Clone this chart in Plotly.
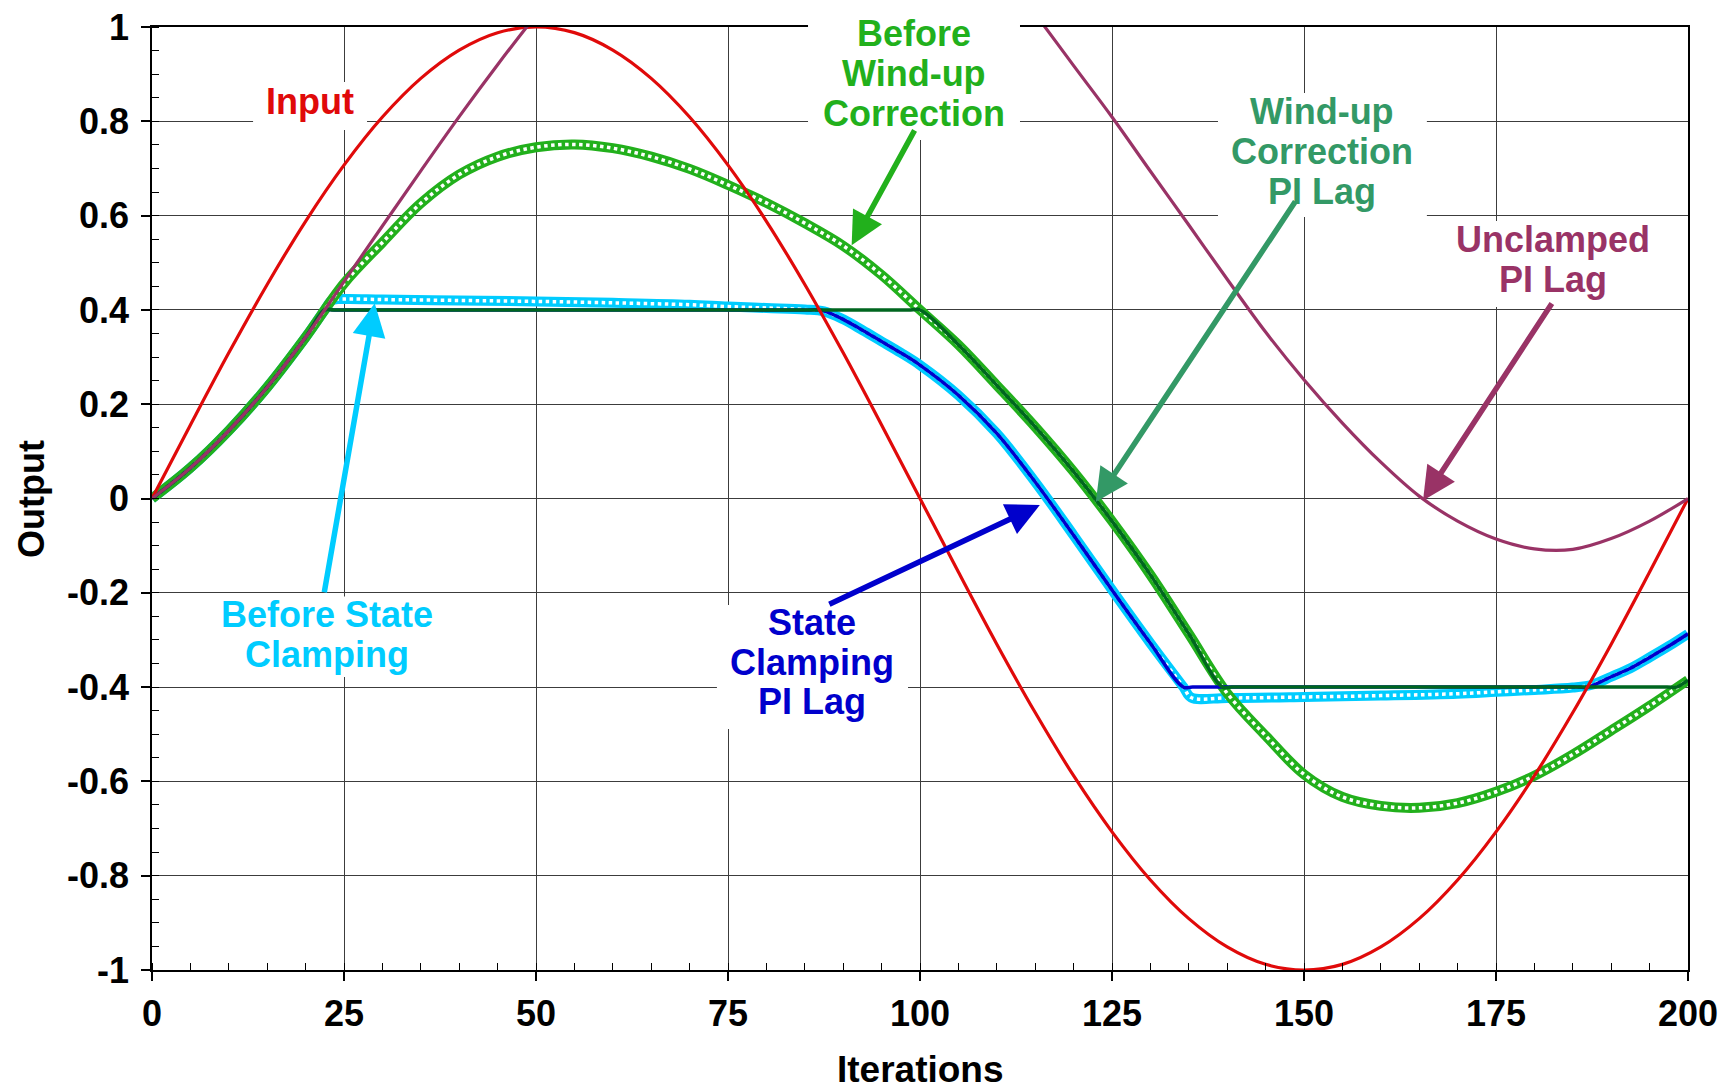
import plotly.graph_objects as go

# ---------------- data ----------------
iterations = [0, 5, 10, 15, 20, 25, 30, 35, 40, 45, 50, 55, 60, 65, 70, 75, 80, 85, 90, 95,
              100, 105, 110, 115, 120, 125, 130, 135, 140, 145, 150, 155, 160, 165, 170, 175,
              180, 185, 190, 195, 200]

input_signal = [0.000, 0.156, 0.309, 0.454, 0.588, 0.707, 0.809, 0.891, 0.951, 0.988,
                1.000, 0.988, 0.951, 0.891, 0.809, 0.707, 0.588, 0.454, 0.309, 0.156,
                0.000, -0.156, -0.309, -0.454, -0.588, -0.707, -0.809, -0.891, -0.951, -0.988,
                -1.000, -0.988, -0.951, -0.891, -0.809, -0.707, -0.588, -0.454, -0.309, -0.156,
                0.000]

unclamped_pi_lag = [0.000, 0.065, 0.144, 0.236, 0.342, 0.460, 0.578, 0.695, 0.810, 0.920,
                    1.025, 1.125, 1.215, 1.290, 1.350, 1.390, 1.405, 1.400, 1.380, 1.340,
                    1.285, 1.215, 1.135, 1.028, 0.918, 0.809, 0.694, 0.580, 0.465, 0.353,
                    0.252, 0.160, 0.077, 0.005, -0.048, -0.086, -0.107, -0.108, -0.085, -0.048,
                    0.000]

before_windup_correction = [0.000, 0.065, 0.144, 0.236, 0.342, 0.456, 0.543, 0.626, 0.687, 0.725,
                            0.745, 0.751, 0.743, 0.725, 0.699, 0.665, 0.627, 0.584, 0.536, 0.474,
                            0.400, 0.326, 0.240, 0.152, 0.057, -0.048, -0.162, -0.287, -0.413, -0.503,
                            -0.585, -0.633, -0.652, -0.656, -0.646, -0.622, -0.588, -0.543, -0.492, -0.440,
                            -0.385]

windup_x = [0, 5, 10, 15, 20, 22.5, 23.7, 60, 98.8, 100, 105, 110, 115, 120, 125, 130, 135,
            139.4, 140.6, 170, 197.3, 198.5, 200]
windup_correction_pi_lag = [0.000, 0.065, 0.144, 0.236, 0.342, 0.400, 0.400, 0.400, 0.400, 0.400,
                            0.326, 0.240, 0.152, 0.057, -0.048, -0.162, -0.287, -0.400, -0.400,
                            -0.400, -0.400, -0.400, -0.385]

state_x = [0, 5, 10, 15, 20, 22.5, 23.7, 50, 85.5, 86.9, 87.5, 90, 92.5, 95, 97.5, 100, 105,
           110, 115, 120, 125, 130, 134.3, 135.5, 160, 185.5, 186.9, 190, 192.5, 195, 197.5, 200]
state_clamping_pi_lag = [0.000, 0.065, 0.144, 0.236, 0.342, 0.400, 0.400, 0.400, 0.400, 0.400,
                         0.398, 0.380, 0.357, 0.333, 0.309, 0.283, 0.219, 0.138, 0.035, -0.078,
                         -0.194, -0.307, -0.400, -0.400, -0.400, -0.400, -0.400, -0.378, -0.360,
                         -0.337, -0.313, -0.287]

before_state_x = [0, 5, 10, 15, 20, 22.5, 23.5, 25, 30, 40, 50, 60, 70, 75, 80, 85, 87.5, 90,
                  92.5, 95, 97.5, 100, 105, 110, 115, 120, 125, 130, 134.3, 135.3, 140, 150,
                  160, 170, 175, 180, 185, 187.5, 190, 192.5, 195, 197.5, 200]
before_state_clamping = [0.000, 0.065, 0.144, 0.236, 0.342, 0.400, 0.421, 0.423, 0.422, 0.420,
                         0.418, 0.415, 0.411, 0.407, 0.404, 0.401, 0.397, 0.380, 0.357, 0.333,
                         0.309, 0.283, 0.219, 0.138, 0.035, -0.078, -0.194, -0.307, -0.400, -0.422,
                         -0.423, -0.421, -0.418, -0.414, -0.410, -0.406, -0.401, -0.395, -0.378, -0.360,
                         -0.337, -0.313, -0.287]

x_tick_vals = [0, 25, 50, 75, 100, 125, 150, 175, 200]
x_tick_text = ["0", "25", "50", "75", "100", "125", "150", "175", "200"]
y_tick_vals = [-1, -0.8, -0.6, -0.4, -0.2, 0, 0.2, 0.4, 0.6, 0.8, 1]
y_tick_text = ["-1", "-0.8", "-0.6", "-0.4", "-0.2", "0", "0.2", "0.4", "0.6", "0.8", "1"]

# ---------------- styles ----------------
FONT = "Liberation Sans, Arial, Helvetica, sans-serif"
RED = "#e00a0a"
PURPLE = "#993366"
GREEN = "#22b01c"
SEAGREEN = "#339966"
DARKGREEN = "#00661f"
CYAN = "#00ccff"
BLUE = "#0000cc"
BAND_W = 10
HOLE = dict(color="white", width=3.5, dash="3.5px,3.5px", shape="spline")

fig = go.Figure()

# Before State Clamping (cyan band of open squares)
fig.add_trace(go.Scatter(x=before_state_x, y=before_state_clamping, mode="lines",
                         line=dict(color=CYAN, width=BAND_W, shape="spline"), hoverinfo="skip"))
fig.add_trace(go.Scatter(x=before_state_x, y=before_state_clamping, mode="lines",
                         line=HOLE, hoverinfo="skip"))
# Before Wind-up Correction (green band of open squares)
fig.add_trace(go.Scatter(x=iterations, y=before_windup_correction, mode="lines",
                         line=dict(color=GREEN, width=BAND_W, shape="spline"), hoverinfo="skip"))
fig.add_trace(go.Scatter(x=iterations, y=before_windup_correction, mode="lines",
                         line=HOLE, hoverinfo="skip"))
# State Clamping PI Lag
fig.add_trace(go.Scatter(x=state_x, y=state_clamping_pi_lag, mode="lines",
                         line=dict(color=BLUE, width=3.5, shape="spline")))
# Wind-up Correction PI Lag
fig.add_trace(go.Scatter(x=windup_x, y=windup_correction_pi_lag, mode="lines",
                         line=dict(color=DARKGREEN, width=3.5, shape="spline")))
# Input
fig.add_trace(go.Scatter(x=iterations, y=input_signal, mode="lines",
                         line=dict(color=RED, width=3.2, shape="spline")))
# Unclamped PI Lag
fig.add_trace(go.Scatter(x=iterations, y=unclamped_pi_lag, mode="lines",
                         line=dict(color=PURPLE, width=3.2, shape="spline")))

# white boxes behind the labels (paper coordinates)
boxes = [
    (0.0658, 0.1400, 0.8908, 0.9417),
    (0.4271, 0.5651, 0.8802, 1.0300),
    (0.6940, 0.8300, 0.7985, 0.9300),
    (0.8398, 0.9837, 0.7031, 0.7943),
    (0.0300, 0.1975, 0.3107, 0.3960),
    (0.3678, 0.4922, 0.2556, 0.3871),
]
for x0, x1, y0, y1 in boxes:
    fig.add_shape(type="rect", xref="paper", yref="paper", x0=x0, x1=x1, y0=y0, y1=y1,
                  fillcolor="white", line=dict(width=0), layer="above")

labels = [
    ("Input", 0.1029, 0.9208, RED),
    ("Before", 0.4961, 0.9933, GREEN),
    ("Wind-up", 0.4961, 0.9509, GREEN),
    ("Correction", 0.4961, 0.9085, GREEN),
    ("Wind-up", 0.7620, 0.9107, SEAGREEN),
    ("Correction", 0.7620, 0.8683, SEAGREEN),
    ("PI Lag", 0.7620, 0.8259, SEAGREEN),
    ("Unclamped", 0.9118, 0.7750, PURPLE),
    ("PI Lag", 0.9118, 0.7326, PURPLE),
    ("Before State", 0.1137, 0.3775, CYAN),
    ("Clamping", 0.1137, 0.3351, CYAN),
    ("State", 0.4300, 0.3690, BLUE),
    ("Clamping", 0.4300, 0.3266, BLUE),
    ("PI Lag", 0.4300, 0.2842, BLUE),
]
for txt, px, py, col in labels:
    fig.add_annotation(text=txt, xref="paper", yref="paper", x=px, y=py,
                       xanchor="center", yanchor="middle", showarrow=False,
                       font=dict(family=FONT, size=36, color=col, weight="bold"))

arrows = [
    (91.1, 0.537, 99.4, 0.784, GREEN),
    (122.9, -0.007, 149.0, 0.633, SEAGREEN),
    (165.5, -0.004, 182.4, 0.417, PURPLE),
    (115.6, -0.014, 88.0, -0.226, BLUE),
    (29.0, 0.414, 22.4, -0.202, CYAN),
]
for tx, ty, sx, sy, col in arrows:
    fig.add_annotation(text="", x=tx, y=ty, ax=sx, ay=sy, xref="x", yref="y",
                       axref="x", ayref="y", showarrow=True, arrowhead=2, arrowsize=1.2,
                       arrowwidth=5.5, arrowcolor=col, standoff=0)

# axis titles
fig.add_annotation(text="Iterations", xref="paper", yref="paper", x=0.5, y=-0.1060,
                   xanchor="center", yanchor="middle", showarrow=False,
                   font=dict(family=FONT, size=37, color="black", weight="bold"))
fig.add_annotation(text="Output", xref="paper", yref="paper", x=-0.0785, y=0.5,
                   xanchor="center", yanchor="middle", showarrow=False, textangle=-90,
                   font=dict(family=FONT, size=36, color="black", weight="bold"))

# the page body has an 8px margin: shrink the figure so the plot lands where the reference has it
fig.update_layout(
    width=1726, height=1081,
    margin=dict(l=144, r=46, t=19, b=119),
    paper_bgcolor="white", plot_bgcolor="white",
    showlegend=False,
    font=dict(family=FONT, size=36, color="black"),
)

axis_common = dict(
    tickmode="array", ticks="outside", ticklen=9, tickwidth=1.5, tickcolor="black",
    showgrid=True, gridcolor="#3c3c3c", gridwidth=1.2, zeroline=False,
    showline=True, linecolor="black", linewidth=1.6, mirror=True, automargin=False,
    ticklabeloverflow="allow",
    tickfont=dict(family=FONT, size=36, color="black", weight="bold"),
)
fig.update_xaxes(
    range=[0, 200], tickvals=x_tick_vals, ticktext=x_tick_text, ticklabelstandoff=2,
    minor=dict(tickmode="linear", tick0=0, dtick=5, ticks="inside", ticklen=7,
               tickwidth=1.2, tickcolor="black", showgrid=False),
    **axis_common,
)
fig.update_yaxes(
    range=[-1, 1], tickvals=y_tick_vals, ticktext=y_tick_text, ticklabelstandoff=5,
    minor=dict(tickmode="linear", tick0=0, dtick=0.05, ticks="inside", ticklen=7,
               tickwidth=1.2, tickcolor="black", showgrid=False),
    **axis_common,
)

fig.write_html("out.html")
